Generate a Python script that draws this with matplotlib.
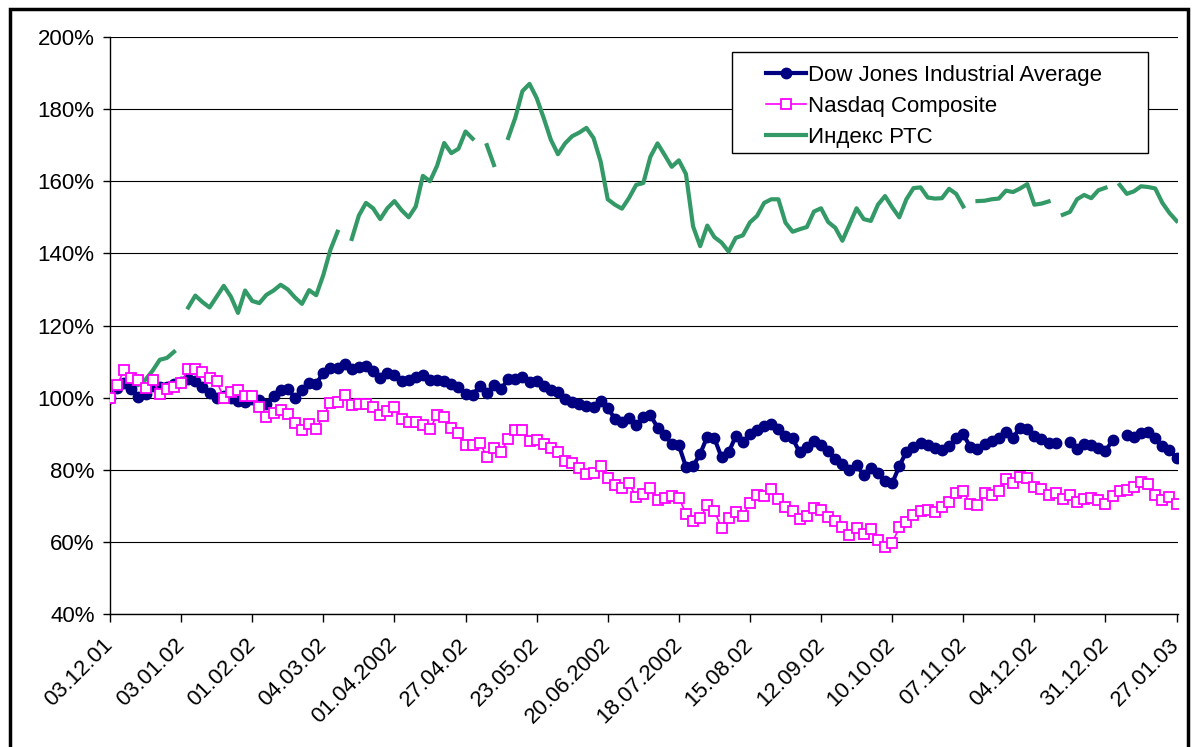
import numpy as np
import matplotlib.pyplot as plt
from matplotlib.patches import Rectangle
from matplotlib.ticker import FuncFormatter

plt.rcParams['font.family'] = ['Liberation Sans', 'DejaVu Sans']

nan = np.nan

# one value every 2 trading days, % of 03.12.01 level
tick_labels = ['03.12.01', '03.01.02', '01.02.02', '04.03.02', '01.04.2002', '27.04.02',
               '23.05.02', '20.06.2002', '18.07.2002', '15.08.02', '12.09.02', '10.10.02',
               '07.11.02', '04.12.02', '31.12.02', '27.01.03']

dow = [100, 102.8, 104, 102.3, 100.3, 101, 103.3, 103, 103, 103.9,
       104.3, 105.2, 104.5, 103, 101.3, 99.8, 100.5, 99.8, 99.2, 98.7,
       99.6, 99.3, 98.2, 100.5, 102.2, 102.4, 100, 102, 104, 103.9,
       106.8, 108.2, 108.3, 109.2, 107.9, 108.5, 108.9, 107.3, 105.5, 106.7,
       106.3, 104.7, 104.8, 105.7, 106.2, 104.9, 104.9, 104.6, 103.9, 103,
       101, 100.7, 103.3, 101.2, 103.5, 102.3, 105.2, 105.3, 105.8, 104.3,
       104.5, 103.2, 102, 101.5, 99.5, 98.9, 98.3, 97.7, 97.3, 99.2,
       97.1, 94.2, 93.3, 94.3, 92.4, 94.5, 95.2, 91.7, 89.6, 87.2,
       86.8, 80.8, 81, 84.4, 89.2, 88.7, 83.5, 84.8, 89.3, 87.6,
       90, 90.9, 92, 92.6, 91.2, 89.3, 88.7, 84.8, 86.3, 88,
       87, 85.2, 83, 81.5, 79.8, 81.2, 78.6, 80.5, 79.1, 76.8,
       76.2, 81, 85, 86.3, 87.4, 86.8, 85.9, 85.6, 86.5, 88.8,
       89.8, 86.3, 85.8, 87.1, 88, 88.8, 90.6, 88.9, 91.7, 91.2,
       89.4, 88.4, 87.3, 87.5, nan, 87.8, 85.7, 87.2, 86.8, 86,
       85.2, 88.2, nan, 89.5, 89.2, 90.1, 90.5, 88.8, 86.5, 85.6, 83.2]

nasdaq = [100, 103.5, 107.7, 105.5, 105, 102.8, 105, 101, 102.4, 103,
          104, 108, 107.8, 107, 105.5, 104.5, 100, 101.5, 102, 100.5,
          100.5, 97.3, 94.5, 95.6, 96.7, 95.5, 93.1, 91, 92.7, 91.4,
          95, 98.5, 98.7, 100.8, 98, 98.1, 98.3, 97.3, 95.3, 96.3,
          97.5, 94.2, 93.2, 93.2, 92.3, 91.3, 95.2, 94.6, 91.5, 90.1,
          87, 87, 87.5, 83.6, 86, 85, 88.5, 90.9, 91, 88,
          88.3, 87.2, 86, 84.8, 82.5, 82, 80.5, 78.8, 79.1, 81.1,
          77.6, 75.7, 75, 76.2, 72.5, 73.2, 75, 71.7, 72.1, 72.7,
          72.3, 67.8, 65.8, 66.5, 70.3, 68.7, 63.8, 66.5, 68.4, 67.3,
          70.8, 73, 72.6, 74.6, 71.8, 69.6, 68.7, 66.3, 67.3, 69.3,
          68.8, 66.9, 65.9, 64, 62, 63.8, 62.3, 63.5, 60.6, 58.5,
          59.7, 64, 65.5, 67.4, 68.6, 68.8, 68.4, 69.6, 71, 73.6,
          74, 70.5, 70.2, 73.6, 72.9, 74, 77.3, 76.4, 77.9, 77.8,
          75.2, 74.7, 72.9, 73.5, 71.8, 73, 71, 72, 72.2, 71.5,
          70.6, 72.8, 74, 74.4, 75.3, 76.6, 76.1, 73, 71.6, 72.5, 70.5]

rts = [100, 103, 104, 103, 103.5, 105, 107.5, 110.5, 111, 112.7,
       nan, 125, 128.3, 126.5, 125, 128, 131, 128, 123.5, 129.7,
       126.8, 126.2, 128.5, 129.7, 131.3, 130, 127.8, 126, 129.8, 128.4,
       134, 141, 146, nan, 144, 150.5, 154, 152.5, 149.5, 152.5,
       154.5, 152, 150, 153, 161.5, 160, 164.3, 170.6, 167.8, 169,
       173.8, 171.8, nan, 170, 164.5, nan, 172, 177.6, 185, 187,
       183.1, 177.5, 171.5, 167.5, 170.5, 172.5, 173.5, 174.8, 172, 165.5,
       155, 153.5, 152.4, 155.4, 159, 159.5, 166.8, 170.5, 167.3, 164,
       165.8, 162, 147.5, 142, 147.7, 144.5, 143, 140.5, 144.3, 145,
       148.6, 150.4, 154, 155, 155, 148.5, 146, 146.7, 147.3, 151.6,
       152.5, 148.7, 147.1, 143.5, 148, 152.5, 149.5, 149, 153.5, 155.9,
       152.8, 150, 155, 158.1, 158.3, 155.5, 155.2, 155.3, 157.9, 156.5,
       153, nan, 154.5, 154.6, 155, 155.2, 157.4, 157, 158, 159.2,
       153.5, 153.8, 154.4, nan, 150.7, 151.5, 155, 156.2, 155.3, 157.5,
       158.2, nan, 159, 156.5, 157.2, 158.6, 158.4, 158, 154, 151.2, 149]

W, H = 1192, 747
fig = plt.figure(figsize=(W / 100, H / 100), dpi=100)
ax = fig.add_axes([110 / W, 1 - 614 / H, 1068 / W, 577 / H])

x = np.arange(len(dow))
ax.plot(x, dow, color='#000080', lw=3, marker='o', ms=7.5, mfc='#000080', mec='#000080',
        label='Dow Jones Industrial Average', zorder=2)
ax.plot(x, nasdaq, color='#FF00FF', lw=1.2, marker='s', ms=6.8, mfc='white', mec='#FF00FF', mew=1.3,
        label='Nasdaq Composite', zorder=3)
ax.plot(x, rts, color='#339966', lw=3, label='Индекс РТС', zorder=1.5)

ax.set_xlim(0, 150.2)
ax.set_ylim(40, 200)
ax.set_yticks(range(40, 201, 20))
ax.yaxis.set_major_formatter(FuncFormatter(lambda v, p: f'{int(v)}%'))
ax.set_xticks(range(0, 151, 10))
ax.set_xticklabels(tick_labels, rotation=45, ha='right', va='center', rotation_mode='anchor')

ax.yaxis.grid(True, color='black', lw=0.8, zorder=0)
ax.set_axisbelow(True)
for s in ['top', 'right']:
    ax.spines[s].set_visible(False)
ax.spines['left'].set_linewidth(1)
ax.spines['bottom'].set_linewidth(1)
ax.tick_params(axis='y', direction='out', length=5, width=1, pad=6, labelsize=16)
ax.tick_params(axis='x', direction='out', length=6, width=1, pad=14, labelsize=16)

# legend box drawn separately so its padding matches
ax.add_patch(Rectangle((732 / W, 1 - 153 / H), 416 / W, 101 / H, transform=fig.transFigure,
                       facecolor='white', edgecolor='black', lw=1, zorder=4.5, clip_on=False))
ax.legend(loc='upper left', bbox_to_anchor=(755 / W, 1 - 54 / H), bbox_transform=fig.transFigure,
          frameon=False, fontsize=16, borderpad=0, handlelength=1.8, handletextpad=0.1,
          labelspacing=0.45)

# outer border of the chart object
fig.add_artist(Rectangle((9.5 / W, -0.05), 1178 / W, 1.05 - 9.5 / H, transform=fig.transFigure,
                         fill=False, edgecolor='black', lw=2.5))

fig.savefig('out.png', dpi=100)
